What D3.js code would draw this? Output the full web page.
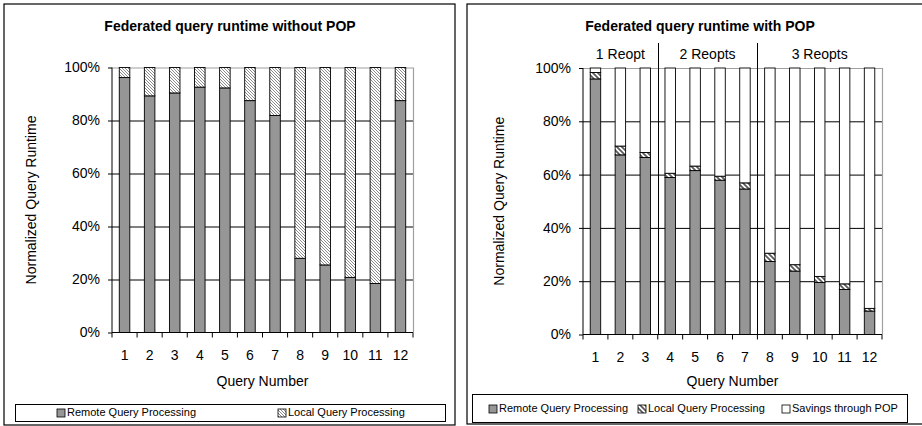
<!DOCTYPE html>
<html><head><meta charset="utf-8">
<script src="https://cdn.jsdelivr.net/npm/d3@7"></script>
<style>body{margin:0;background:#fff}svg{display:block;font-family:"Liberation Sans",Arial,sans-serif}</style>
</head><body>
<svg id="c" width="922" height="426"></svg>
<script>
const categories = ["1","2","3","4","5","6","7","8","9","10","11","12"];
const yTicks = [0,20,40,60,80,100];
// Without POP
const remoteWithout = [96.2, 89.3, 90.4, 92.6, 92.3, 87.5, 81.9, 28.0, 25.5, 20.8, 18.5, 87.5];
const localWithout  = [3.8, 10.7, 9.6, 7.4, 7.7, 12.5, 18.1, 72.0, 74.5, 79.2, 81.5, 12.5];
// With POP
const remoteWith  = [95.9, 67.4, 66.4, 58.9, 61.5, 57.9, 54.6, 27.4, 23.8, 19.5, 16.9, 8.8];
const localWith   = [2.4, 3.3, 1.9, 1.6, 1.7, 1.5, 2.3, 3.1, 2.4, 2.3, 2.1, 1.0];
const savingsWith = [1.7, 29.3, 31.7, 39.5, 36.8, 40.6, 43.1, 69.5, 73.8, 78.2, 81.0, 90.2];
const reoptGroups = [
  {label:"1 Reopt", from:"1", to:"3"},
  {label:"2 Reopts", from:"4", to:"7"},
  {label:"3 Reopts", from:"8", to:"12"}
];

const svg = d3.select("#c");
const defs = svg.append("defs");
function hatch(id, size, sw, col){
  const p = defs.append("pattern").attr("id", id).attr("patternUnits","userSpaceOnUse")
    .attr("width", size).attr("height", size);
  p.append("rect").attr("width", size).attr("height", size).attr("fill","#fff");
  p.append("path").attr("d", `M0,0L${size},${size}M${-size},0L${size},${2*size}M0,${-size}L${2*size},${size}`)
    .attr("stroke", col).attr("stroke-width", sw);
}
hatch("hatchA", 3, 0.8, "#6e6e6e");
hatch("hatchB", 5, 1.8, "#5a5a5a");

const GRAY = "#969696";

function panel(o){
  const g = svg.append("g");
  g.append("rect").attr("x", o.box[0]).attr("y", o.box[1]).attr("width", o.box[2]).attr("height", o.box[3])
    .attr("fill","none").attr("stroke","#000").attr("stroke-width",1.2);
  const x = d3.scaleBand().domain(categories).range([o.x0, o.x1]).paddingInner(0).paddingOuter(0);
  const y = d3.scaleLinear().domain([0,100]).range([o.y0, o.y1]);
  const bw = x.bandwidth()*0.42;
  g.append("g").selectAll("line").data(yTicks.filter(t=>t>0 && t<100)).join("line")
    .attr("x1", o.x0).attr("x2", o.x1).attr("y1", d=>y(d)+0.5).attr("y2", d=>y(d)+0.5)
    .attr("stroke","#000").attr("stroke-width",1);
  g.append("path").attr("d", `M${o.x0},${y(100)+0.5}H${o.x1+0.5}V${y(0)}`)
    .attr("fill","none").attr("stroke","#a0a0a0").attr("stroke-width",1.2);
  const series = o.series;
  categories.forEach((c,i)=>{
    let base = 0;
    series.forEach(s=>{
      const v = s.values[i];
      g.append("rect").attr("x", x(c)+x.bandwidth()/2-bw/2).attr("width", bw)
        .attr("y", y(base+v)).attr("height", y(base)-y(base+v))
        .attr("fill", s.fill).attr("stroke","#000").attr("stroke-width",0.9);
      base += v;
    });
  });
  if(o.groups){
    o.groups.forEach((gr,i)=>{
      const xa = x(gr.from), xb = x(gr.to)+x.bandwidth();
      g.append("text").attr("x",(xa+xb)/2).attr("y",55).attr("text-anchor","middle")
        .attr("dominant-baseline","middle").attr("font-size",14).text(gr.label);
      if(i>0){
        g.append("line").attr("x1",Math.round(xa)+0.5).attr("x2",Math.round(xa)+0.5)
          .attr("y1",43).attr("y2",y(0)).attr("stroke","#000").attr("stroke-width",1);
      }
    });
  }
  const ya = g.append("g").attr("transform",`translate(${o.x0},0)`)
    .call(d3.axisLeft(y).tickValues(yTicks).tickFormat(d=>d+"%").tickSize(4).tickPadding(8));
  ya.select(".domain").attr("stroke","#000").attr("d",`M0,${y(100)}V${y(0)}`);
  ya.selectAll("text").attr("font-size",14).attr("font-family","Liberation Sans, Arial, sans-serif").attr("fill","#000");
  const xa = g.append("g").attr("transform",`translate(0,${y(0)})`)
    .call(d3.axisBottom(x).tickSize(0).tickPadding(18));
  xa.select(".domain").attr("stroke","#000").attr("d",`M${o.x0},0H${o.x1}`);
  xa.selectAll("text").attr("font-size",14).attr("font-family","Liberation Sans, Arial, sans-serif").attr("fill","#000");
  xa.append("g").selectAll("line").data(categories.concat(["end"])).join("line")
    .attr("x1", d=> d==="end"? o.x1 : x(d)).attr("x2", d=> d==="end"? o.x1 : x(d))
    .attr("y1",0).attr("y2",5).attr("stroke","#000");
  g.append("text").attr("x", o.titleX).attr("y", 27).attr("text-anchor","middle")
    .attr("dominant-baseline","middle").attr("font-size",14).attr("font-weight","bold").text(o.title);
  g.append("text").attr("x",(o.x0+o.x1)/2).attr("y",382).attr("text-anchor","middle")
    .attr("dominant-baseline","middle").attr("font-size",14).text("Query Number");
  g.append("text").attr("transform",`translate(${o.ylabX},${(o.y0+o.y1)/2}) rotate(-90)`)
    .attr("text-anchor","middle").attr("dominant-baseline","middle").attr("font-size",14).text("Normalized Query Runtime");
  const L = o.legend;
  g.append("rect").attr("x",L.box[0]).attr("y",L.box[1]).attr("width",L.box[2]).attr("height",L.box[3])
    .attr("fill","#fff").attr("stroke","#000").attr("stroke-width",1);
  series.forEach((s,i)=>{
    const lx = L.xs[i];
    g.append("rect").attr("x",lx).attr("y",L.cy-4).attr("width",8).attr("height",8)
      .attr("fill", s.fill).attr("stroke","#000").attr("stroke-width",0.8);
    g.append("text").attr("x",lx+10).attr("y",L.cy).attr("dominant-baseline","middle")
      .attr("font-size",11).text(s.name);
  });
}

panel({
  box:[4,4,451,421], x0:112, x1:413, y0:332.5, y1:67.5,
  title:"Federated query runtime without POP", titleX:230, ylabX:32,
  series:[
    {name:"Remote Query Processing", values:remoteWithout, fill:GRAY},
    {name:"Local Query Processing", values:localWithout, fill:"url(#hatchA)"}
  ],
  legend:{box:[15.5,404.5,430,17], cy:413, xs:[57,278]}
});
panel({
  box:[467,4,470,420], x0:583, x1:882, y0:334.5, y1:68,
  title:"Federated query runtime with POP", titleX:700, ylabX:500,
  groups: reoptGroups,
  series:[
    {name:"Remote Query Processing", values:remoteWith, fill:GRAY},
    {name:"Local Query Processing", values:localWith, fill:"url(#hatchB)"},
    {name:"Savings through POP", values:savingsWith, fill:"#fff"}
  ],
  legend:{box:[472.5,394.5,435,28], cy:409, xs:[489,638,782]}
});
</script>
</body></html>
